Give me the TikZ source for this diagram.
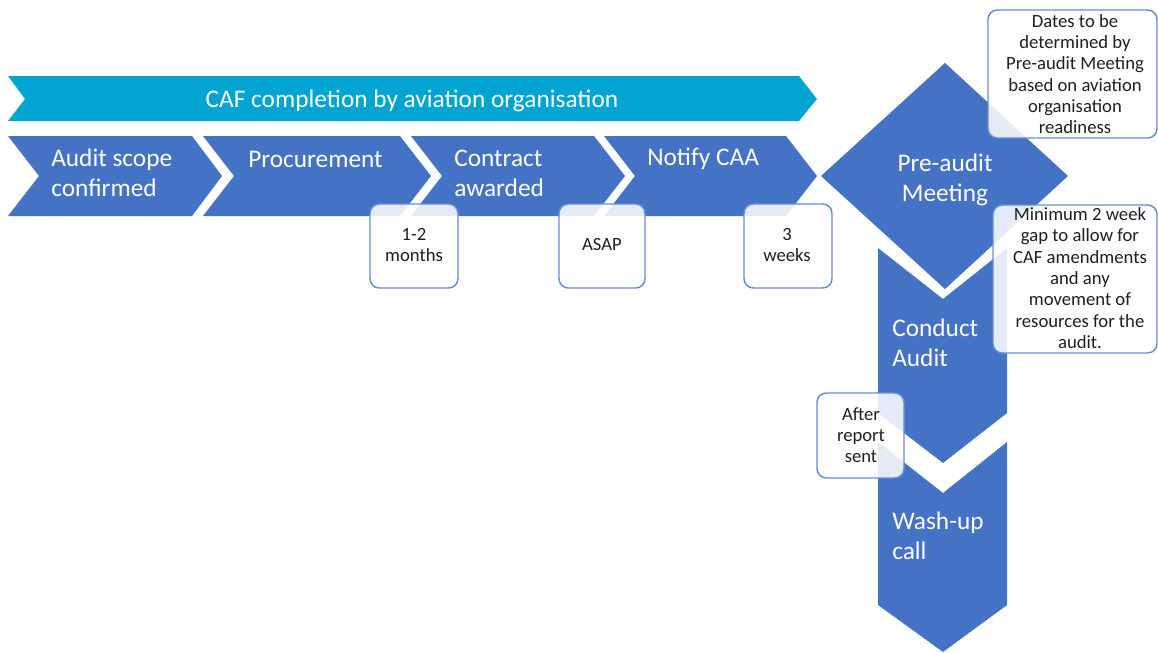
\documentclass[tikz,border=0pt]{standalone}
\usepackage{fontspec}
\setmainfont{Carlito}
\definecolor{mainblue}{RGB}{68,114,196}
\definecolor{cafteal}{RGB}{2,165,209}
\definecolor{calloutblue}{RGB}{100,142,214}
\begin{document}
\begin{tikzpicture}[x=0.75pt,y=-0.75pt,
  bluefill/.style={fill=mainblue,draw=none},
  tealfill/.style={fill=cafteal,draw=none},
  maintext/.style={text=white,font=\fontsize{19}{22.5}\selectfont,inner sep=0pt},
  callout/.style={draw=calloutblue,line width=1.1pt,fill=white,fill opacity=0.86,rounded corners=7pt},
  callouttext/.style={font=\fontsize{14}{16}\selectfont,text=black!88,align=center,inner sep=0pt}]
\clip (0,0) rectangle (1158,653);
\fill[white] (0,0) rectangle (1158,653);
% top banner
\fill[tealfill] (8,76) -- (799,76) -- (817,99) -- (799,121) -- (8,121) -- (25,99) -- cycle;
\node[maintext] (caf) at (412,101) {CAF completion by aviation organisation};
% horizontal chevrons
\fill[bluefill] (8,136) -- (192,136) -- (222,176) -- (192,216) -- (8,216) -- (39,176) -- cycle;
\fill[bluefill] (203,136) -- (400,136) -- (431,176) -- (400,216) -- (203,216) -- (234,176) -- cycle;
\fill[bluefill] (411,136) -- (594,136) -- (625,176) -- (594,216) -- (411,216) -- (442,176) -- cycle;
\fill[bluefill] (604,136) -- (786,136) -- (817,176) -- (786,216) -- (604,216) -- (635,176) -- cycle;
\node[maintext,align=left,anchor=west] (scope) at (51,173) {Audit scope\\confirmed};
\node[maintext,anchor=west] (proc) at (248,159) {Procurement};
\node[maintext,align=left,anchor=west] (contract) at (454,173) {Contract\\awarded};
\node[maintext,anchor=west] (notify) at (647,159) {Notify CAA};
% diamond
\fill[bluefill] (945,63) -- (1068,176) -- (945,289) -- (821,176) -- cycle;
\node[maintext,align=center] (pre) at (945,180) {Pre-audit\\Meeting};
% vertical chevrons
\fill[bluefill] (878,248) -- (943,299) -- (1007,248) -- (1007,413) -- (943,463) -- (878,413) -- cycle;
\fill[bluefill] (878,442) -- (943,493) -- (1007,442) -- (1007,605) -- (943,652) -- (878,605) -- cycle;
\node[maintext,align=left,anchor=west] (conduct) at (892,343) {Conduct\\Audit};
\node[maintext,align=left,anchor=west] (wash) at (892,536) {Wash-up\\call};
% callouts
\draw[callout] (370,204) rectangle (458,288);
\node[callouttext] (c1) at (414,245) {1-2\\months};
\draw[callout] (559,204) rectangle (645,288);
\node[callouttext] (c2) at (602,245) {ASAP};
\draw[callout] (744,204) rectangle (832,288);
\node[callouttext] (c3) at (787,245) {3\\weeks};
\draw[callout] (988,10) rectangle (1157,138);
\node[callouttext] (c4) at (1075,74) {Dates to be\\determined by\\Pre-audit Meeting\\based on aviation\\organisation\\readiness};
\draw[callout] (993,205) rectangle (1157,353);
\node[callouttext] (c5) at (1080,278) {Minimum 2 week\\gap to allow for\\CAF amendments\\and any\\movement of\\resources for the\\audit.};
\draw[callout] (817,393) rectangle (904,478);
\node[callouttext] (c6) at (861,435) {After\\report\\sent};
\end{tikzpicture}
\end{document}
